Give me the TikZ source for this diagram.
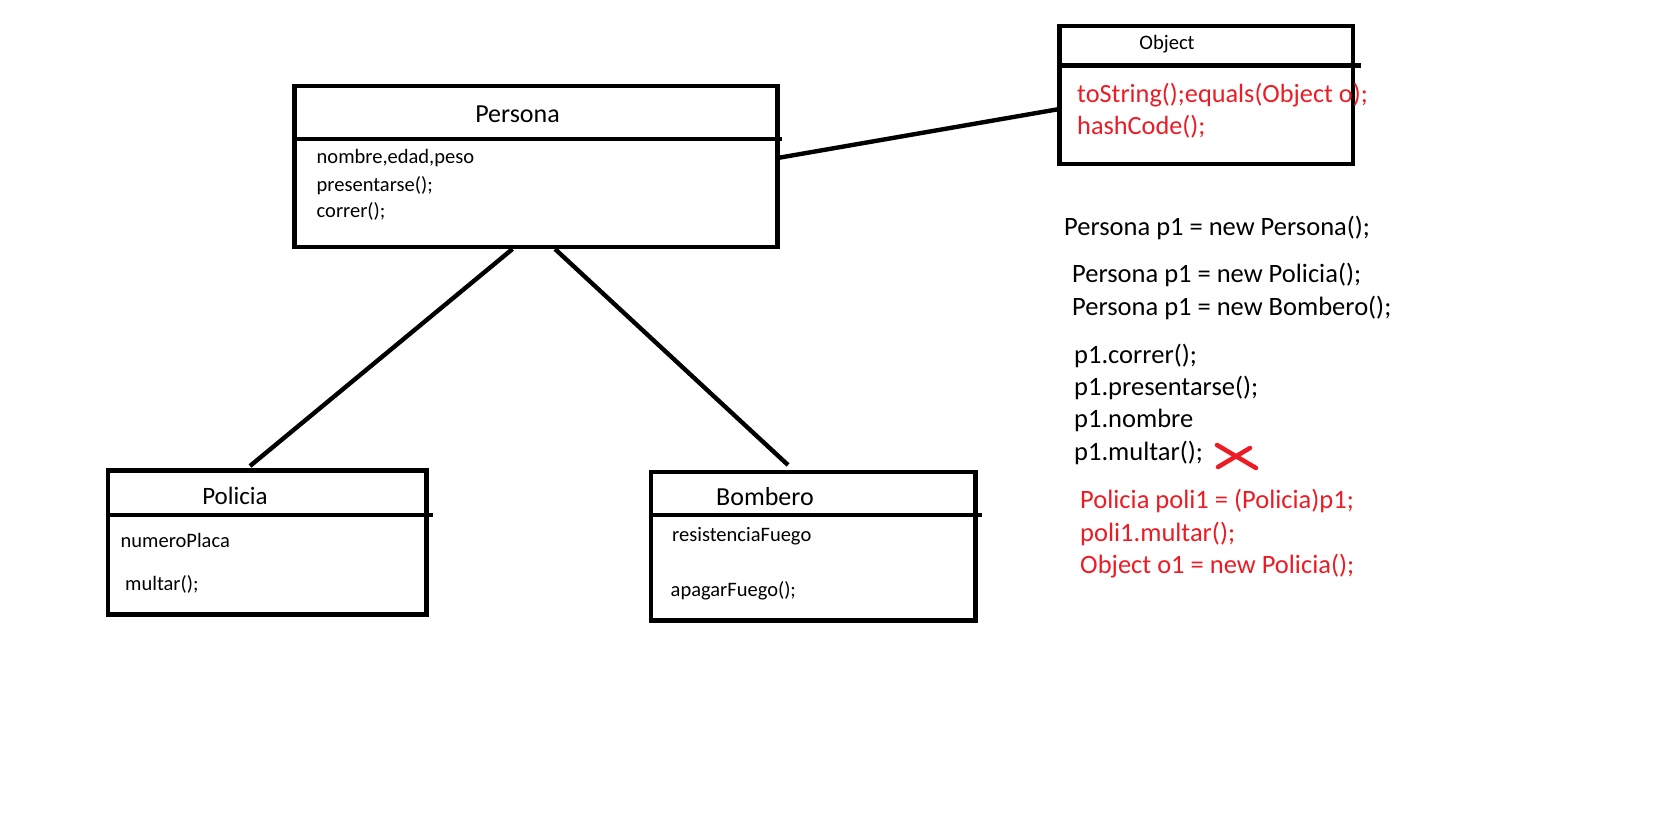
\documentclass[tikz,border=0pt]{standalone}
\usepackage{fontspec}
\setmainfont{Carlito}
\definecolor{paintred}{RGB}{237,28,36}
\begin{document}
\begin{tikzpicture}[x=1pt,y=-1pt,
  box/.style={draw, line width=4.4pt, rectangle, inner sep=0pt, outer sep=0pt, anchor=north west},
  conn/.style={line width=4.4pt},
  divider/.style={line width=4.4pt},
  title/.style={anchor=base, font=\fontsize{26}{31}\selectfont, inner sep=0pt},
  smalltitle/.style={anchor=base, font=\fontsize{20.6}{25}\selectfont, inner sep=0pt},
  member/.style={anchor=base west, font=\fontsize{20.5}{25}\selectfont, inner sep=0pt},
  code/.style={anchor=base west, font=\fontsize{26.5}{32}\selectfont, inner sep=0pt},
  redcode/.style={code, text=paintred},
  cross/.style={draw=paintred, line width=4.5pt, line cap=round}
]
\fill[white] (0,0) rectangle (1657,824);
\useasboundingbox (0,0) rectangle (1657,824);

% boxes
\node[box, minimum width=483pt, minimum height=160.8pt] (persona) at (294.5,86.2) {};
\node[box, minimum width=293.5pt, minimum height=137.5pt] (object) at (1059.5,26.2) {};
\node[box, minimum width=318.5pt, minimum height=144pt] (policia) at (108,470.5) {};
\node[box, minimum width=324.5pt, minimum height=148.5pt] (bombero) at (651,472) {};

% dividers
\draw[divider] ([yshift=-52.8pt]persona.north west) -- ++(487.5,0);
\draw[divider] ([yshift=-39.3pt]object.north west) -- ++(301.5,0);
\draw[divider] ([yshift=-44.5pt]policia.north west) -- ++(325,0);
\draw[divider] ([yshift=-43pt]bombero.north west) -- ++(331,0);

% titles
\node[title] (tpersona) at (517.5,122.5) {Persona};
\node[smalltitle] (tobject) at (1167,49.5) {Object};
\node[title, font=\fontsize{25}{30}\selectfont] (tpolicia) at (235,504) {Policia};
\node[title] (tbombero) at (765,505.5) {Bombero};

% members
\node[member] (m1) at (316.5,164) {nombre,edad,peso};
\node[member] (m2) at (316.5,191) {presentarse();};
\node[member] (m3) at (316.5,217) {correr();};
\node[redcode, font=\fontsize{26.3}{32}\selectfont] (o1) at (1077,103) {toString();equals(Object o);};
\node[redcode, font=\fontsize{26.3}{32}\selectfont] (o2) at (1077,135) {hashCode();};
\node[member] (pm1) at (120.5,547) {numeroPlaca};
\node[member] (pm2) at (125,590) {multar();};
\node[member] (bm1) at (672,541.5) {resistenciaFuego};
\node[member] (bm2) at (670.5,596.5) {apagarFuego();};

% connectors
\coordinate (po1) at ([yshift=-71.8pt]persona.north east);
\coordinate (po2) at ([yshift=-82.8pt]object.north west);
\draw[conn] (po1) -- (po2);
\coordinate (pp1) at (512.5,249);
\coordinate (pp2) at (250,466);
\draw[conn] (pp1) -- (pp2);
\coordinate (pb1) at (555,249);
\coordinate (pb2) at (788,465);
\draw[conn] (pb1) -- (pb2);

% code on the right
\node[code] (c1) at (1064,235) {Persona p1 = new Persona();};
\node[code] (c2) at (1072,282) {Persona p1 = new Policia();};
\node[code] (c3) at (1072,315) {Persona p1 = new Bombero();};
\node[code] (c4) at (1074,363) {p1.correr();};
\node[code] (c5) at (1074,395) {p1.presentarse();};
\node[code] (c6) at (1074,427) {p1.nombre};
\node[code] (c7) at (1074,460) {p1.multar();};
\coordinate (x1) at (1217,445);
\coordinate (x2) at (1256,468);
\coordinate (x3) at (1218,467);
\coordinate (x4) at (1250,448);
\draw[cross] (x1) -- (x2);
\draw[cross] (x3) -- (x4);
\node[redcode] (r1) at (1080,508) {Policia poli1 = (Policia)p1;};
\node[redcode] (r2) at (1080,541) {poli1.multar();};
\node[redcode] (r3) at (1080,573) {Object o1 = new Policia();};
\end{tikzpicture}
\end{document}
